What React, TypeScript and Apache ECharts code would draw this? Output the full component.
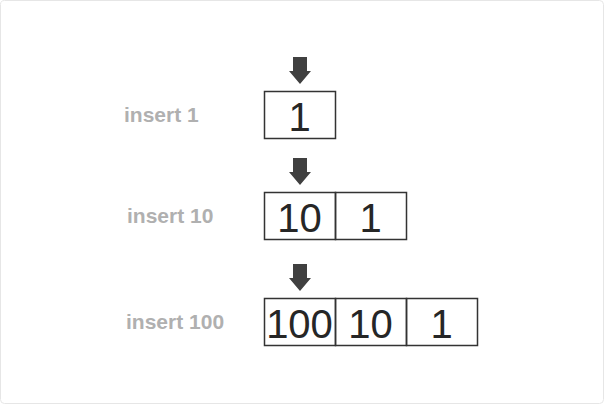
import { useEffect, useRef } from 'react'
import * as echarts from 'echarts'

// 每一行：标签 + 数组内容（新元素插到最前面）
const labels = ['insert 1', 'insert 10', 'insert 100']
const rowValues = [['1'], ['10', '1'], ['100', '10', '1']]
const rowTops = [91, 192, 298]
const labelX = [124, 127, 126]

export default function App() {
  const elRef = useRef<HTMLDivElement>(null)

  useEffect(() => {
    if (!elRef.current) return
    const chart = echarts.init(elRef.current, null, { renderer: 'svg' })
    const cellW = 71
    const cellH = 47
    const startX = 264
    const elements: any[] = [
      {
        type: 'rect',
        shape: { x: 0.5, y: 0.5, width: 603, height: 403, r: 4 },
        style: { fill: '#fff', stroke: '#e6e6e6', lineWidth: 1 },
      },
    ]
    rowValues.forEach((vals, i) => {
      const top = rowTops[i]
      // 箭头
      const ax = startX + 36
      const ay = top - 34
      elements.push({
        type: 'polygon',
        shape: {
          points: [
            [ax - 7, ay], [ax + 7, ay], [ax + 7, ay + 14], [ax + 11, ay + 14],
            [ax, ay + 27], [ax - 11, ay + 14], [ax - 7, ay + 14],
          ],
        },
        style: { fill: '#404040' },
      })
      elements.push({
        type: 'text',
        x: labelX[i],
        y: top + cellH / 2,
        style: {
          text: labels[i],
          fill: '#b0b0b0',
          fontFamily: 'Liberation Sans',
          fontWeight: 'bold',
          fontSize: 21,
          verticalAlign: 'middle',
        },
      })
      vals.forEach((v, j) => {
        const x = startX + j * cellW
        elements.push({
          type: 'rect',
          shape: { x: x + 0.5, y: top + 0.5, width: cellW, height: cellH },
          style: { fill: 'none', stroke: '#333', lineWidth: 1.5 },
        })
        elements.push({
          type: 'text',
          x: x + cellW / 2,
          y: top + cellH / 2 + 2,
          style: {
            text: v,
            fill: '#262626',
            fontFamily: 'Liberation Sans',
            fontSize: 40,
            align: 'center',
            verticalAlign: 'middle',
          },
        })
      })
    })
    chart.setOption({ animation: false, graphic: { elements } })
    return () => chart.dispose()
  }, [])

  return (
    <div
      ref={elRef}
      style={{ position: 'absolute', left: 0, top: 0, width: 604, height: 404, background: '#fff' }}
    />
  )
}
